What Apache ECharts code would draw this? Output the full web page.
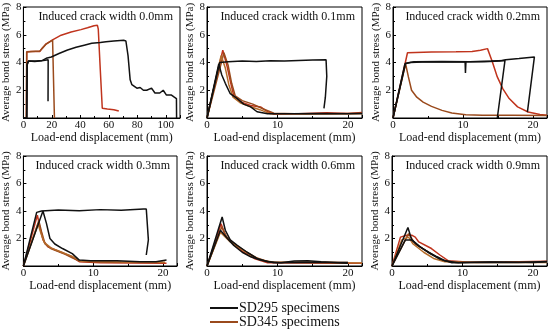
<!DOCTYPE html>
<html><head><meta charset="utf-8">
<script src="https://cdn.jsdelivr.net/npm/echarts@6/dist/echarts.min.js"></script>
<style>html,body{margin:0;padding:0;background:#fff}#c{width:550px;height:332px}</style>
</head><body><div id="c"></div>
<script>
// ---- panel titles & axes ----
const panelTitles = ['Induced crack width 0.0mm','Induced crack width 0.1mm','Induced crack width 0.2mm',
                     'Induced crack width 0.3mm','Induced crack width 0.6mm','Induced crack width 0.9mm'];
const xMaxes = [110, 22, 22, 22, 22, 22];
const xIntervals = [20, 10, 10, 10, 10, 10];
const yTicks = [0, 2, 4, 6, 8];
const legendNames = ['SD295 specimens', 'SD345 specimens'];

// ---- Panel 1 (0.0 mm) ----
const p1_sd295_a = [[0,0],[2.3,0],[2.6,3.8],[3.5,4.1],[8,4.08],[12.7,4.12],[16,4.3],[19.6,4.4],[25,4.65],[31,4.9],[37,5.1],[42.7,5.25],[48,5.38],[54,5.45],[58,5.5],[63.5,5.55],[70.4,5.6],[72,5.55],[73.5,4.5],[75,2.75],[76.2,2.4],[79.7,2.15],[82,2.2],[84.3,2.0],[86.6,2.0],[90,2.15],[92.4,1.8],[95.8,1.8],[98.2,2.0],[100.5,1.65],[104,1.65],[106,1.5],[107.5,1.4],[107.6,0]];
const p1_sd295_b = [[0,0],[2.4,0],[2.7,3.9],[3.6,4.1],[9,4.1],[14,4.15],[17.4,4.2],[17.3,1.2]];
const p1_sd345_a = [[2.2,0],[2.4,4.77],[5,4.8],[11.5,4.8],[12.7,4.95],[16,5.35],[20.8,5.65],[26.5,5.97],[33.5,6.2],[40.4,6.37],[45,6.5],[49.6,6.65],[52,6.68],[52.6,6.4],[54,3.5],[55.4,0.7],[59,0.65],[63.5,0.6],[67,0.5]];
const p1_sd345_b = [[2.0,0],[2.3,4.75],[6,4.8],[11.5,4.82],[13,5.0],[16,5.33],[20.5,5.62],[21.6,5.6],[21.8,0]];

// ---- Panel 2 (0.1 mm) ----
const p2_sd295_a = [[0,0],[1.8,4.0],[3,4.05],[5,4.1],[7,4.08],[9,4.12],[11,4.1],[13,4.15],[15,4.18],[16.9,4.2],[17.1,4.2],[17.0,3.0],[16.8,1.5],[16.6,0.7]];
const p2_sd295_b = [[0,0],[1.67,3.9],[2.1,3.1],[2.6,2.5],[3.3,1.75],[4.3,1.4],[5.2,1.0],[6.2,0.8],[7.1,0.45],[8.6,0.3],[12,0.3],[16,0.32],[20,0.3],[22,0.32]];
const p2_sd345_a = [[0,0],[2.24,4.88],[2.86,3.7],[3.33,2.6],[3.8,1.6],[4.8,1.15],[6.2,0.9],[7.6,0.8],[8.6,0.45],[9.5,0.27],[13,0.3],[17,0.38],[20,0.32],[22,0.4]];
const p2_sd345_b = [[0,0],[2.4,4.7],[3.0,3.8],[3.5,2.5],[4.0,1.6],[5,1.25],[6.5,1.0],[8,0.65],[9.5,0.35],[14,0.28],[18,0.3],[22,0.35]];
const p2_sd345_c = [[0,0],[2.0,4.5],[2.6,3.6],[3.1,2.4],[3.7,1.5],[4.7,1.1],[6,0.85],[7.5,0.6],[9,0.3],[15,0.3],[22,0.3]];

// ---- Panel 3 (0.2 mm) ----
const p3_sd295_a = [[0,0],[1.7,3.9],[2.5,4.0],[5,4.05],[8,4.03],[10.3,4.05],[10.35,3.25],[10.42,4.05],[13,4.05],[15.2,4.1],[16.1,4.2],[18,4.28],[20.2,4.4],[19.2,0.43]];
const p3_sd295_b = [[0,0],[1.8,3.95],[3,4.05],[7,4.08],[11,4.05],[14,4.1],[16,4.15],[14.9,0]];
const p3_sd345_a = [[0,0],[2.07,4.7],[5.5,4.76],[9,4.78],[11.3,4.8],[12.5,4.88],[13.5,5.0],[13.7,4.88],[14.2,4.04],[14.9,2.96],[15.7,2.1],[16.6,1.4],[17.8,0.8],[19.3,0.43],[21,0.26],[22,0.2]];
const p3_sd345_b = [[0,0],[1.8,3.9],[2.2,2.96],[2.65,2.0],[3.4,1.5],[4.3,1.15],[5.5,0.84],[7,0.55],[8.4,0.36],[10.4,0.24],[12.8,0.19],[17,0.2],[22,0.18]];

// ---- Panel 4 (0.3 mm) ----
const p4_sd295_a = [[0,0],[1.9,3.9],[2.6,4.0],[5,4.08],[8,4.02],[11,4.1],[14,4.05],[17.2,4.15],[17.6,4.15],[17.9,1.9],[17.6,0.8]];
const p4_sd295_b = [[0,0],[2.8,4.0],[3.3,3.1],[3.8,2.0],[4.5,1.6],[5.6,1.27],[7,0.9],[8,0.43],[9.6,0.38],[13.4,0.38],[16.7,0.31],[19,0.31],[20.5,0.43]];
const p4_sd345_a = [[0,0],[2.0,3.7],[2.35,2.84],[2.8,1.9],[3.5,1.4],[4.7,1.15],[5.9,0.9],[7,0.67],[8,0.31],[11,0.24],[16,0.22],[20.5,0.2]];
const p4_sd345_b = [[0,0],[2.2,3.3],[2.6,2.5],[3.1,1.6],[4,1.25],[5,1.05],[6,0.85],[7,0.6],[8,0.35],[12,0.28],[20,0.25]];
const p4_sd345_c = [[0,0],[2.1,3.05],[2.5,2.4],[3,1.7],[4,1.3],[5.5,1.0],[7,0.7],[8.2,0.35],[14,0.3],[20.3,0.28]];

// ---- Panel 5 (0.6 mm) ----
const p5_sd295_a = [[0,0],[2.15,3.56],[2.6,2.6],[3.3,1.9],[4.3,1.5],[5.7,1.0],[7.1,0.55],[8.6,0.31],[10.5,0.24],[12.4,0.36],[14.3,0.38],[16.2,0.31],[18.6,0.24],[20,0.2]];
const p5_sd295_b = [[0,0],[1.9,2.6],[2.9,2.0],[3.8,1.5],[5,1.0],[6.2,0.67],[7.6,0.43],[9.5,0.24],[14,0.25],[20,0.25]];
const p5_sd345_a = [[0,0],[2.0,3.08],[2.6,2.2],[3.8,1.6],[5.2,1.0],[6.7,0.55],[8.6,0.24],[14,0.22],[18,0.2],[22,0.2]];
const p5_sd345_b = [[0,0],[2.1,2.85],[2.8,2.1],[4,1.55],[5.5,1.05],[7,0.6],[8.8,0.3],[15,0.28],[20,0.25]];
const p5_sd345_c = [[0,0],[1.9,2.45],[3.3,1.75],[4.8,1.27],[6.2,0.8],[7.6,0.43],[9.5,0.28],[16,0.26],[22,0.22]];

// ---- Panel 6 (0.9 mm) ----
const p6_sd295_a = [[0,0],[2.26,2.8],[2.8,1.9],[3.8,1.45],[5.2,1.0],[6.4,0.67],[7.5,0.38],[9.4,0.24],[14,0.28],[18,0.25],[22,0.32]];
const p6_sd295_b = [[0,0],[1.9,1.9],[2.8,1.9],[4,1.4],[5.4,0.9],[6.8,0.5],[8.5,0.24],[14,0.3],[20,0.25],[22,0.3]];
const p6_sd345_a = [[0,0],[1.2,2.1],[2.1,2.24],[2.8,2.24],[3.3,2.1],[3.8,1.75],[5.6,1.27],[6.8,0.8],[8,0.38],[11,0.28],[16,0.3],[22,0.35]];
const p6_sd345_b = [[0,0],[2.35,2.35],[3.3,1.6],[4.7,1.15],[6,0.75],[7.2,0.4],[9,0.26],[15,0.28],[22,0.28]];
const p6_sd345_c = [[0,0],[1.4,1.9],[2.35,2.1],[3,1.6],[4.5,1.0],[5.9,0.55],[7.5,0.31],[12,0.26],[22,0.25]];

// ---- colours ----
const BLACK = '#111111', RED = '#c0341d', BROWN = '#9a4a1c', ORANGE = '#b36b2a';

const panels = [
  {sd295:[p1_sd295_a,p1_sd295_b], sd345:[p1_sd345_a,p1_sd345_b]},
  {sd295:[p2_sd295_a,p2_sd295_b], sd345:[p2_sd345_a,p2_sd345_b,p2_sd345_c]},
  {sd295:[p3_sd295_a,p3_sd295_b], sd345:[p3_sd345_a,p3_sd345_b]},
  {sd295:[p4_sd295_a,p4_sd295_b], sd345:[p4_sd345_a,p4_sd345_b,p4_sd345_c]},
  {sd295:[p5_sd295_a,p5_sd295_b], sd345:[p5_sd345_a,p5_sd345_b,p5_sd345_c]},
  {sd295:[p6_sd295_a,p6_sd295_b], sd345:[p6_sd345_a,p6_sd345_b,p6_sd345_c]}
];

// layout
const grids = [
  {left:22, top:7, width:158, height:111},
  {left:207, top:7, width:155, height:111},
  {left:393, top:7, width:154, height:111},
  {left:22, top:156, width:155, height:110},
  {left:207, top:156, width:155, height:110},
  {left:392, top:156, width:155, height:110}
];
const FONT = 'Liberation Serif';

const option = {
  animation:false,
  backgroundColor:'#fff',
  textStyle:{fontFamily:FONT},
  grid: grids.map(g => Object.assign({show:true, borderColor:'#000', borderWidth:1, containLabel:false}, g)),
  title: grids.map((g,i) => ({
    text: panelTitles[i],
    right: 550 - (g.left + g.width) + 7,
    top: g.top + 4,
    padding:0,
    textStyle:{fontFamily:FONT, fontSize:12, fontWeight:'normal', color:'#111'}
  })),
  xAxis: grids.map((g,i) => ({
    gridIndex:i, type:'value', min:0, max:xMaxes[i], interval:xIntervals[i],
    name:'Load-end displacement (mm)', nameLocation:'middle', nameGap: i<3 ? 11 : 13,
    nameTextStyle:{fontFamily:FONT, fontSize:12, color:'#111'},
    axisLine:{show:true, onZero:false, lineStyle:{color:'#000', width:1}},
    axisTick:{show:true, inside:true, length:3, lineStyle:{color:'#000'}},
    minorTick:{show:true, splitNumber:2, length:2, lineStyle:{color:'#000'}},
    splitLine:{show:false},
    axisLabel:{fontFamily:FONT, fontSize:11, color:'#111', margin:2,
      formatter: v => (v % xIntervals[i] === 0 ? String(v) : '')}
  })),
  yAxis: grids.map((g,i) => ({
    gridIndex:i, type:'value', min:yTicks[0], max:yTicks[yTicks.length-1], interval:2,
    name:'Average bond stress (MPa)', nameLocation:'middle', nameGap:10, nameRotate:90,
    nameTextStyle:{fontFamily:FONT, fontSize:11, color:'#111'},
    axisLine:{show:true, onZero:false, lineStyle:{color:'#000', width:1}},
    axisTick:{show:true, inside:true, length:3, lineStyle:{color:'#000'}},
    minorTick:{show:true, splitNumber:2, length:2, lineStyle:{color:'#000'}},
    splitLine:{show:false},
    axisLabel:{fontFamily:FONT, fontSize:11, color:'#111', margin:2,
      formatter: v => (v === 0 ? '' : String(v))}
  })),
  legend:{
    left:210, top:301, orient:'vertical', padding:0, itemGap:0, itemWidth:28, itemHeight:2, icon:'rect',
    height:40,
    data:[{name:legendNames[0], itemStyle:{color:BLACK}}, {name:legendNames[1], itemStyle:{color:BROWN}}],
    textStyle:{fontFamily:FONT, fontSize:14, color:'#111', padding:[0,0,0,-4], lineHeight:14},
    selectedMode:false
  },
  series: []
};

const redPalette = [RED, BROWN, ORANGE];
panels.forEach((p,i) => {
  p.sd345.forEach((d,k) => option.series.push({
    type:'line', name:legendNames[1], xAxisIndex:i, yAxisIndex:i, data:d,
    showSymbol:false, symbol:'none', clip:true,
    lineStyle:{color:redPalette[k % 3], width:1.5}, itemStyle:{color:BROWN}
  }));
  p.sd295.forEach((d,k) => option.series.push({
    type:'line', name:legendNames[0], xAxisIndex:i, yAxisIndex:i, data:d,
    showSymbol:false, symbol:'none', clip:true,
    lineStyle:{color:BLACK, width:1.5}, itemStyle:{color:BLACK}
  }));
});

const chart = echarts.init(document.getElementById('c'), null, {renderer:'canvas'});
chart.setOption(option);
</script></body></html>
